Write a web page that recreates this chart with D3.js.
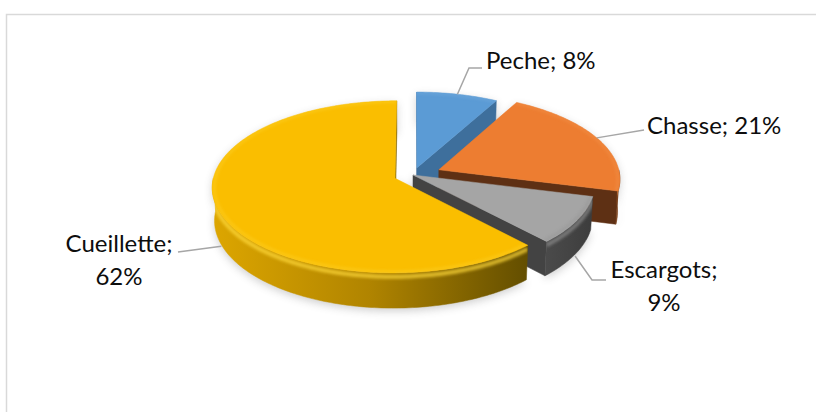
<!DOCTYPE html>
<html>
<head>
<meta charset="utf-8">
<script src="https://cdn.jsdelivr.net/npm/d3@7"></script>
<style>
  html, body { margin: 0; padding: 0; background: #fff; }
  svg { display: block; }
</style>
</head>
<body>
<svg id="chart" width="816" height="412"></svg>
<script>
// ---- data ----
const categories = ["Peche", "Chasse", "Escargots", "Cueillette"];
const values = [8, 21, 9, 62];
const percentLabels = ["8%", "21%", "9%", "62%"];

// ---- colours ----
const topColors  = ["#5B9BD5", "#ED7D31", "#A5A5A5", "#FABE00"];
const faceColors = ["#3E6F9C", "#5E3014", "#434343", "#7D6000"];
const wallLight  = ["#4F86BA", "#7A3F18", "#4A4A4A", "#DDA600"];
const wallMid    = ["#3F6F9C", "#62321A", "#444444", "#B08400"];
const wallDark   = ["#2F5578", "#55290F", "#3C3C3C", "#634E00"];
const rimColors  = ["#7FB2E0", "#F59A55", "#8C8C8C", "#FFD93A"];

// ---- layout ----
const W = 816, H = 412;
const R = 179;                 // pie radius (3D units)
const depth = 37;              // pie thickness
const tilt = 29 * Math.PI / 180;
const camDist = 1600;
const explode = [16, 28, 0, 19];
const anchor = [413, 175];     // screen position of the pie's top centre

// label placement: leader elbow/end and text anchor
const labelLayout = [
  { elbow: [469, 68],  end: [482, 68],  x: 486, y: 69,  align: "start",  split: false },
  { elbow: null,       end: [644, 130], x: 647, y: 134, align: "start",  split: false },
  { elbow: [592, 280], end: [606, 280], x: 664, y: 278, align: "middle", split: true },
  { elbow: null,       end: [178, 252], x: 119, y: 252, align: "middle", split: true }
];
const lineGap = 33;
const fontSize = 24;

const svg = d3.select("#chart");
const defs = svg.append("defs");

// chart area border
svg.append("rect")
  .attr("x", 6.5).attr("y", 14.5)
  .attr("width", 900).attr("height", 500)
  .attr("fill", "#fff")
  .attr("stroke", "#D9D9D9").attr("stroke-width", 1.5);

// ---- 3D projection ----
const sinT = Math.sin(tilt), cosT = Math.cos(tilt);
function rawProj(X, Y, Z) {
  const v = Z * sinT + Y * cosT;
  const d = Z * cosT - Y * sinT;
  const s = camDist / (camDist + d);
  return [X * s, -v * s, d];
}
const origin = rawProj(0, depth, 0);
function proj(X, Y, Z) {
  const p = rawProj(X, Y, Z);
  return [anchor[0] + p[0] - origin[0], anchor[1] + p[1] - origin[1], p[2]];
}
const camera = [0, camDist * sinT, -camDist * cosT];

const arcs = d3.pie().sort(null).value(d => d)(values);
const line = d3.line();

const slices = arcs.map((a, i) => {
  const mid = (a.startAngle + a.endAngle) / 2;
  const ox = explode[i] * Math.sin(mid), oz = explode[i] * Math.cos(mid);
  const rim = (t, Y, r = R) => proj(ox + r * Math.sin(t), Y, oz + r * Math.cos(t));
  const apex = Y => proj(ox, Y, oz);
  const sample = (t0, t1) => {
    const n = Math.max(2, Math.ceil((t1 - t0) / (Math.PI / 180)));
    return d3.range(n + 1).map(k => t0 + (t1 - t0) * k / n);
  };
  return { i, a, mid, ox, oz, rim, apex, sample };
});

const blur1 = defs.append("filter").attr("id", "soft")
  .attr("x", "-10%").attr("y", "-10%").attr("width", "120%").attr("height", "120%");
blur1.append("feGaussianBlur").attr("stdDeviation", 1.6);

// ---- shadow ----
const shadow = defs.append("filter").attr("id", "shadow")
  .attr("x", "-20%").attr("y", "-20%").attr("width", "140%").attr("height", "140%");
shadow.append("feGaussianBlur").attr("stdDeviation", 4.5);
const gShadow = svg.append("g").attr("filter", "url(#shadow)").attr("opacity", 0.28)
  .attr("transform", "translate(0,3)");
slices.forEach(s => {
  const ts = s.sample(s.a.startAngle, s.a.endAngle);
  const pts = [s.apex(depth).slice(0, 2), ...ts.map(t => s.rim(t, depth).slice(0, 2)),
               ...ts.slice().reverse().map(t => s.rim(t, 0).slice(0, 2)), s.apex(0).slice(0, 2)];
  gShadow.append("path").attr("d", line(pts) + "Z").attr("fill", "#555");
});

// ---- radial side faces ----
const faces = [];
slices.forEach(s => {
  [[s.a.startAngle, -1], [s.a.endAngle, 1]].forEach(([t, side]) => {
    const phi = t + side * Math.PI / 2;
    const n = [Math.sin(phi), 0, Math.cos(phi)];
    const toCam = [camera[0] - s.ox, camera[1] - depth / 2, camera[2] - s.oz];
    const dot = n[0] * toCam[0] + n[1] * toCam[1] + n[2] * toCam[2];
    if (dot > 1) {
      const p1 = s.apex(depth), p2 = s.rim(t, depth), p3 = s.rim(t, 0), p4 = s.apex(0);
      faces.push({ s, pts: [p1, p2, p3, p4].map(p => p.slice(0, 2)), z: (p1[2] + p2[2]) / 2 });
    }
  });
});
faces.sort((a, b) => b.z - a.z);
svg.append("g").selectAll("path").data(faces).join("path")
  .attr("d", f => line(f.pts) + "Z")
  .attr("fill", f => faceColors[f.s.i])
  .attr("stroke", f => faceColors[f.s.i]).attr("stroke-width", 0.5);

// ---- outer walls (front half only) ----
const gWalls = svg.append("g");
slices.forEach(s => {
  const t0 = Math.max(s.a.startAngle, Math.PI / 2);
  const t1 = Math.min(s.a.endAngle, 3 * Math.PI / 2);
  if (t1 <= t0) return;
  const ts = s.sample(t0, t1);
  const topPts = ts.map(t => s.rim(t, depth).slice(0, 2));
  const botPts = ts.slice().reverse().map(t => s.rim(t, 0).slice(0, 2));
  const xs = topPts.map(p => p[0]);
  const gid = "wall" + s.i;
  const grad = defs.append("linearGradient").attr("id", gid)
    .attr("gradientUnits", "userSpaceOnUse")
    .attr("x1", d3.min(xs)).attr("x2", d3.max(xs)).attr("y1", 0).attr("y2", 0);
  grad.append("stop").attr("offset", 0).attr("stop-color", wallLight[s.i]);
  grad.append("stop").attr("offset", 0.5).attr("stop-color", wallMid[s.i]);
  grad.append("stop").attr("offset", 1).attr("stop-color", wallDark[s.i]);
  gWalls.append("path").attr("d", line(topPts.concat(botPts)) + "Z")
    .attr("fill", `url(#${gid})`).attr("stroke", `url(#${gid})`).attr("stroke-width", 0.5);
  // bevel highlight along the upper edge of the wall
  const clipId = "wallclip" + s.i;
  defs.append("clipPath").attr("id", clipId)
    .append("path").attr("d", line(topPts.concat(botPts)) + "Z");
  const hl = ts.map(t => s.rim(t, depth - 4).slice(0, 2));
  gWalls.append("g").attr("clip-path", `url(#${clipId})`)
    .append("path").attr("d", line(hl))
    .attr("fill", "none").attr("stroke", rimColors[s.i]).attr("stroke-width", 4)
    .attr("opacity", 0.75).attr("filter", "url(#soft)");
});

// ---- top faces ----
const gTops = svg.append("g");
slices.forEach(s => {
  const ts = s.sample(s.a.startAngle, s.a.endAngle);
  const pts = [s.apex(depth).slice(0, 2), ...ts.map(t => s.rim(t, depth).slice(0, 2))];
  const d = line(pts) + "Z";
  gTops.append("path").attr("d", d)
    .attr("fill", topColors[s.i]).attr("stroke", topColors[s.i]).attr("stroke-width", 0.5);
  // soft bevel light just inside the rim
  const clipId = "topclip" + s.i;
  defs.append("clipPath").attr("id", clipId).append("path").attr("d", d);
  gTops.append("g").attr("clip-path", `url(#${clipId})`)
    .append("path").attr("d", line(ts.map(t => s.rim(t, depth, R - 2).slice(0, 2))))
    .attr("fill", "none").attr("stroke", rimColors[s.i]).attr("stroke-width", 3)
    .attr("opacity", 0.35).attr("filter", "url(#soft)");
});

// ---- data labels with leader lines ----
const gLabels = svg.append("g");
slices.forEach(s => {
  const L = labelLayout[s.i];
  const back = Math.cos(s.mid) > 0;
  const start = back ? s.rim(s.mid, depth) : s.rim(s.mid, -2);
  const pts = [start.slice(0, 2)];
  if (L.elbow) pts.push(L.elbow);
  pts.push(L.end);
  gLabels.append("path").attr("d", line(pts))
    .attr("fill", "none").attr("stroke", "#A6A6A6").attr("stroke-width", 1.5);
  const text = gLabels.append("text")
    .attr("x", L.x).attr("y", L.y)
    .attr("text-anchor", L.align)
    .attr("font-family", "Lato, 'Noto Sans', sans-serif")
    .attr("font-size", fontSize)
    .attr("fill", "#0d0d0d");
  if (L.split) {
    text.append("tspan").attr("x", L.x).text(categories[s.i] + ";");
    text.append("tspan").attr("x", L.x).attr("dy", lineGap).text(percentLabels[s.i]);
  } else {
    text.text(categories[s.i] + "; " + percentLabels[s.i]);
  }
});
</script>
</body>
</html>
